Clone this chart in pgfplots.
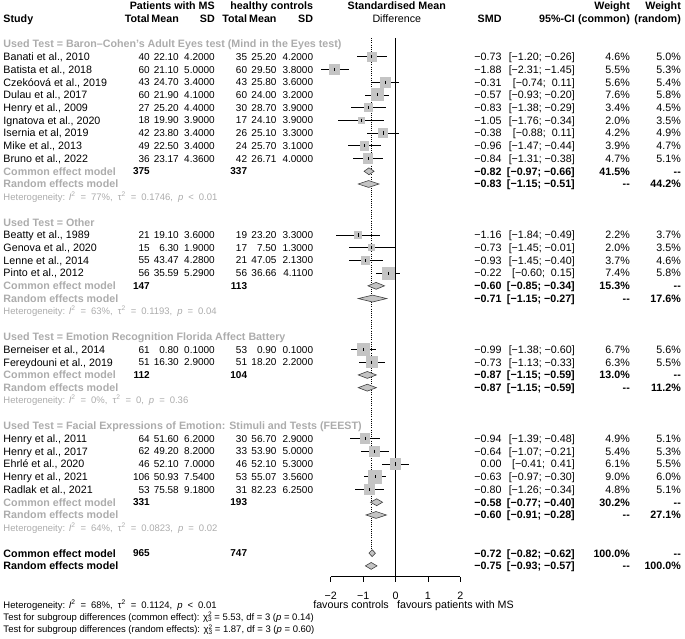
\documentclass[border=0pt]{standalone}
\usepackage{fontspec}
\setmainfont{Liberation Sans}
\usepackage{pgfplots}
\usepackage{pgfplotstable}
\pgfplotsset{compat=1.18}
\definecolor{lg}{RGB}{172,172,172}
\definecolor{sq}{RGB}{196,196,196}
\newcommand\fm{\fontsize{10.7}{12}\selectfont}
\newcommand\fn{\fontsize{10}{12}\selectfont}
\newcommand\fsm{\fontsize{9.5}{11}\selectfont}
\newcommand\hs{\hspace{5pt}}
\def\cStudy{-12.105}
\def\cNa{-7.58}
\def\cMa{-6.682}
\def\cSa{-5.571}
\def\cNb{-4.574}
\def\cMb{-3.667}
\def\cSb{-2.537}
\def\cSMD{3.278}
\def\cCI{5.540}
\def\cWc{7.238}
\def\cWr{8.812}
\tikzset{
  tx/.style={inner sep=0pt, text height=7.7pt, text depth=0pt, font=\fm},
  L/.style={tx, anchor=west},
  R/.style={tx, anchor=east},
  N/.style={inner sep=0pt, text height=7.2pt, text depth=0pt, font=\fn, anchor=east},
  C/.style={tx, anchor=center},
  B/.style={font=\fm\bfseries},
  S/.style={inner sep=0pt, text height=6.8pt, text depth=0pt, font=\fsm, anchor=west},
}
\newcommand\lrow[8]{%
  \node[L] at (axis cs:\cStudy,-#1) {#2};
  \node[N] at (axis cs:\cNa,-#1) {#3};
  \node[N] at (axis cs:\cMa,-#1) {#4};
  \node[N] at (axis cs:\cSa,-#1) {#5};
  \node[N] at (axis cs:\cNb,-#1) {#6};
  \node[N] at (axis cs:\cMb,-#1) {#7};
  \node[N] at (axis cs:\cSb,-#1) {#8};}
\newcommand\rrow[5]{%
  \node[R] at (axis cs:\cSMD,-#1) {#2};
  \node[R] at (axis cs:\cCI,-#1) {#3};
  \node[R] at (axis cs:\cWc,-#1) {#4};
  \node[R] at (axis cs:\cWr,-#1) {#5};}
\newcommand\rrowb[5]{%
  \node[R,B] at (axis cs:\cSMD,-#1) {#2};
  \node[R,B] at (axis cs:\cCI,-#1) {#3};
  \node[R,B] at (axis cs:\cWc,-#1) {#4};
  \node[R,B] at (axis cs:\cWr,-#1) {#5};}
\newcommand\summ[5]{% row, label, n1, n2, colour
  \node[L,B,text=#5] at (axis cs:\cStudy,-#1) {#2};
  \node[N,font=\fn\bfseries] at (axis cs:\cNa,-#1) {#3};
  \node[N,font=\fn\bfseries] at (axis cs:\cNb,-#1) {#4};}
\newcommand\grp[2]{\node[L,B,text=lg] at (axis cs:\cStudy,-#1) {#2};}
\newcommand\het[6]{\node[S,text=#6] at (axis cs:\cStudy,-#1) {Heterogeneity: \textit{I}\textsuperscript{2}\hs=\hs#2,\hs τ\textsuperscript{2}\hs=\hs#3,\hs\textit{p}\hs#4\hs#5};}
\newcommand\chisq{χ\rlap{\raisebox{3.4pt}{\fontsize{6.5}{7}\selectfont 2}}\raisebox{-1.6pt}{\fontsize{6.5}{7}\selectfont 3}}

\pgfplotstableread{
row smd lo hi w
5 -0.73 -1.20 -0.26 4.6
6 -1.88 -2.31 -1.45 5.5
7 -0.31 -0.74 0.11 5.6
8 -0.57 -0.93 -0.20 7.6
9 -0.83 -1.38 -0.29 3.4
10 -1.05 -1.76 -0.34 2.0
11 -0.38 -0.88 0.11 4.2
12 -0.96 -1.47 -0.44 3.9
13 -0.84 -1.31 -0.38 4.7
19 -1.16 -1.84 -0.49 2.2
20 -0.73 -1.45 -0.01 2.0
21 -0.93 -1.45 -0.40 3.7
22 -0.22 -0.60 0.15 7.4
28 -0.99 -1.38 -0.60 6.7
29 -0.73 -1.13 -0.33 6.3
35 -0.94 -1.39 -0.48 4.9
36 -0.64 -1.07 -0.21 5.4
37 0.00 -0.41 0.41 6.1
38 -0.63 -0.97 -0.30 9.0
39 -0.80 -1.26 -0.34 4.8
}\studies

\begin{document}
\begin{tikzpicture}
\begin{axis}[
  x=32.4pt, y=12.73pt,
  xmin=-2, xmax=2, ymin=-45.85, ymax=-3.53,
  axis x line*=bottom, axis y line=none,
  axis line style={line width=0.8pt, black},
  xtick={-2,-1,0,1,2}, xticklabels={−2,−1,0,1,2},
  tick align=outside, major tick length=5pt,
  x tick style={line width=0.8pt, black},
  xticklabel style={font=\fm, inner sep=0pt, text height=7.7pt, text depth=0pt, yshift=-9.5pt},
  clip=false,
]
% reference lines
\addplot[black, line width=0.8pt] coordinates {(0,-3.53) (0,-45.85)};
\addplot[black, line width=0.8pt, dash pattern=on 1pt off 1.2pt] coordinates {(-0.75,-3.53) (-0.75,-43.7)};
% squares
\addplot[scatter, only marks, mark=square*, draw=sq, fill=sq,
  mark options={draw=sq, fill=sq, line width=0pt},
  scatter/use mapped color={draw=sq, fill=sq},
  visualization depends on={2.17*sqrt(\thisrow{w}) \as \msz},
  scatter/@pre marker code/.append style={/tikz/mark size=\msz}]
  table[x=smd, y expr=-\thisrow{row}] {\studies};
% confidence intervals
\addplot[only marks, mark=|, mark size=1.6pt, black, mark options={line width=0.8pt},
  error bars/.cd, x dir=both, x explicit, error mark=none,
  error bar style={line width=0.75pt, black}]
  table[x=smd, y expr=-\thisrow{row},
        x error plus expr=\thisrow{hi}-\thisrow{smd},
        x error minus expr=\thisrow{smd}-\thisrow{lo}] {\studies};
% diamonds
\pgfplotsset{dia/.style={fill=sq, draw=black!75, line width=0.6pt}}
\addplot[dia] coordinates {(-0.97,-14) (-0.82,-13.73) (-0.66,-14) (-0.82,-14.27)} -- cycle;
\addplot[dia] coordinates {(-1.15,-15) (-0.83,-14.73) (-0.51,-15) (-0.83,-15.27)} -- cycle;
\addplot[dia] coordinates {(-0.85,-23) (-0.60,-22.73) (-0.34,-23) (-0.60,-23.27)} -- cycle;
\addplot[dia] coordinates {(-1.15,-24) (-0.71,-23.73) (-0.27,-24) (-0.71,-24.27)} -- cycle;
\addplot[dia] coordinates {(-1.15,-30) (-0.87,-29.73) (-0.59,-30) (-0.87,-30.27)} -- cycle;
\addplot[dia] coordinates {(-1.15,-31) (-0.87,-30.73) (-0.59,-31) (-0.87,-31.27)} -- cycle;
\addplot[dia] coordinates {(-0.77,-40) (-0.58,-39.73) (-0.40,-40) (-0.58,-40.27)} -- cycle;
\addplot[dia] coordinates {(-0.91,-41) (-0.60,-40.73) (-0.28,-41) (-0.60,-41.27)} -- cycle;
\addplot[dia] coordinates {(-0.82,-44) (-0.72,-43.73) (-0.62,-44) (-0.72,-44.27)} -- cycle;
\addplot[dia] coordinates {(-0.93,-45) (-0.75,-44.73) (-0.57,-45) (-0.75,-45.27)} -- cycle;

% headers
\node[R,B] at (axis cs:\cSa,-1) {Patients with MS};
\node[R,B] at (axis cs:\cSb,-1) {healthy controls};
\node[C,B] at (axis cs:0.04,-1) {Standardised Mean};
\node[R,B] at (axis cs:\cWc,-1) {Weight};
\node[R,B] at (axis cs:\cWr,-1) {Weight};
\node[L,B] at (axis cs:\cStudy,-2) {Study};
\node[R,B] at (axis cs:\cNa,-2) {Total};
\node[R,B] at (axis cs:\cMa,-2) {Mean};
\node[R,B] at (axis cs:\cSa,-2) {SD};
\node[R,B] at (axis cs:\cNb,-2) {Total};
\node[R,B] at (axis cs:\cMb,-2) {Mean};
\node[R,B] at (axis cs:\cSb,-2) {SD};
\node[C] at (axis cs:0.04,-2) {Difference};
\node[R,B] at (axis cs:\cSMD,-2) {SMD};
\node[R,B] at (axis cs:\cCI,-2) {95\%-CI};
\node[R,B] at (axis cs:\cWc,-2) {(common)};
\node[R,B] at (axis cs:\cWr,-2) {(random)};

% group 1
\grp{4}{Used Test = Baron–Cohen's Adult Eyes test (Mind in the Eyes test)}
\lrow{5}{Banati et al., 2010}{40}{22.10}{4.2000}{35}{25.20}{4.2000}
\lrow{6}{Batista et al., 2018}{60}{21.10}{5.0000}{60}{29.50}{3.8000}
\lrow{7}{Czekóová et al., 2019}{43}{24.70}{3.4000}{43}{25.80}{3.6000}
\lrow{8}{Dulau et al., 2017}{60}{21.90}{4.1000}{60}{24.00}{3.2000}
\lrow{9}{Henry et al., 2009}{27}{25.20}{4.4000}{30}{28.70}{3.9000}
\lrow{10}{Ignatova et al., 2020}{18}{19.90}{3.9000}{17}{24.10}{3.9000}
\lrow{11}{Isernia et al, 2019}{42}{23.80}{3.4000}{26}{25.10}{3.3000}
\lrow{12}{Mike et al., 2013}{49}{22.50}{3.4000}{24}{25.70}{3.1000}
\lrow{13}{Bruno et al., 2022}{36}{23.17}{4.3600}{42}{26.71}{4.0000}
\rrow{5}{−0.73}{[−1.20; −0.26]}{4.6\%}{5.0\%}
\rrow{6}{−1.88}{[−2.31; −1.45]}{5.5\%}{5.3\%}
\rrow{7}{−0.31}{[−0.74;\ \ 0.11]}{5.6\%}{5.4\%}
\rrow{8}{−0.57}{[−0.93; −0.20]}{7.6\%}{5.8\%}
\rrow{9}{−0.83}{[−1.38; −0.29]}{3.4\%}{4.5\%}
\rrow{10}{−1.05}{[−1.76; −0.34]}{2.0\%}{3.5\%}
\rrow{11}{−0.38}{[−0.88;\ \ 0.11]}{4.2\%}{4.9\%}
\rrow{12}{−0.96}{[−1.47; −0.44]}{3.9\%}{4.7\%}
\rrow{13}{−0.84}{[−1.31; −0.38]}{4.7\%}{5.1\%}
\summ{14}{Common effect model}{375}{337}{lg}
\summ{15}{Random effects model}{}{}{lg}
\rrowb{14}{−0.82}{[−0.97; −0.66]}{41.5\%}{-{}-}
\rrowb{15}{−0.83}{[−1.15; −0.51]}{-{}-}{44.2\%}
\het{16}{77\%}{0.1746}{<}{0.01}{lg}

% group 2
\grp{18}{Used Test = Other}
\lrow{19}{Beatty et al., 1989}{21}{19.10}{3.6000}{19}{23.20}{3.3000}
\lrow{20}{Genova et al., 2020}{15}{6.30}{1.9000}{17}{7.50}{1.3000}
\lrow{21}{Lenne et al., 2014}{55}{43.47}{4.2800}{21}{47.05}{2.1300}
\lrow{22}{Pinto et al., 2012}{56}{35.59}{5.2900}{56}{36.66}{4.1100}
\rrow{19}{−1.16}{[−1.84; −0.49]}{2.2\%}{3.7\%}
\rrow{20}{−0.73}{[−1.45; −0.01]}{2.0\%}{3.5\%}
\rrow{21}{−0.93}{[−1.45; −0.40]}{3.7\%}{4.6\%}
\rrow{22}{−0.22}{[−0.60;\ \ 0.15]}{7.4\%}{5.8\%}
\summ{23}{Common effect model}{147}{113}{lg}
\summ{24}{Random effects model}{}{}{lg}
\rrowb{23}{−0.60}{[−0.85; −0.34]}{15.3\%}{-{}-}
\rrowb{24}{−0.71}{[−1.15; −0.27]}{-{}-}{17.6\%}
\het{25}{63\%}{0.1193}{=}{0.04}{lg}

% group 3
\grp{27}{Used Test = Emotion Recognition Florida Affect Battery}
\lrow{28}{Berneiser et al., 2014}{61}{0.80}{0.1000}{53}{0.90}{0.1000}
\lrow{29}{Fereydouni et al., 2019}{51}{16.30}{2.9000}{51}{18.20}{2.2000}
\rrow{28}{−0.99}{[−1.38; −0.60]}{6.7\%}{5.6\%}
\rrow{29}{−0.73}{[−1.13; −0.33]}{6.3\%}{5.5\%}
\summ{30}{Common effect model}{112}{104}{lg}
\summ{31}{Random effects model}{}{}{lg}
\rrowb{30}{−0.87}{[−1.15; −0.59]}{13.0\%}{-{}-}
\rrowb{31}{−0.87}{[−1.15; −0.59]}{-{}-}{11.2\%}
\het{32}{0\%}{0}{=}{0.36}{lg}

% group 4
\grp{34}{Used Test = Facial Expressions of Emotion: Stimuli and Tests (FEEST)}
\lrow{35}{Henry et al., 2011}{64}{51.60}{6.2000}{30}{56.70}{2.9000}
\lrow{36}{Henry et al., 2017}{62}{49.20}{8.2000}{33}{53.90}{5.0000}
\lrow{37}{Ehrlé et al., 2020}{46}{52.10}{7.0000}{46}{52.10}{5.3000}
\lrow{38}{Henry et al., 2021}{106}{50.93}{7.5400}{53}{55.07}{3.5600}
\lrow{39}{Radlak et al., 2021}{53}{75.58}{9.1800}{31}{82.23}{6.2500}
\rrow{35}{−0.94}{[−1.39; −0.48]}{4.9\%}{5.1\%}
\rrow{36}{−0.64}{[−1.07; −0.21]}{5.4\%}{5.3\%}
\rrow{37}{0.00}{[−0.41;\ \ 0.41]}{6.1\%}{5.5\%}
\rrow{38}{−0.63}{[−0.97; −0.30]}{9.0\%}{6.0\%}
\rrow{39}{−0.80}{[−1.26; −0.34]}{4.8\%}{5.1\%}
\summ{40}{Common effect model}{331}{193}{lg}
\summ{41}{Random effects model}{}{}{lg}
\rrowb{40}{−0.58}{[−0.77; −0.40]}{30.2\%}{-{}-}
\rrowb{41}{−0.60}{[−0.91; −0.28]}{-{}-}{27.1\%}
\het{42}{64\%}{0.0823}{=}{0.02}{lg}

% overall
\summ{44}{Common effect model}{965}{747}{black}
\summ{45}{Random effects model}{}{}{black}
\rrowb{44}{−0.72}{[−0.82; −0.62]}{100.0\%}{-{}-}
\rrowb{45}{−0.75}{[−0.93; −0.57]}{-{}-}{100.0\%}

\node[R] at (axis cs:-0.2,-48.07) {favours controls};
\node[L] at (axis cs:0.046,-48.07) {favours patients with MS};
\het{48.07}{68\%}{0.1124}{<}{0.01}{black}
\node[S] at (axis cs:\cStudy,-49.0) {Test for subgroup differences (common effect): \chisq\ = 5.53, df = 3 (\textit{p} = 0.14)};
\node[S] at (axis cs:\cStudy,-50.0) {Test for subgroup differences (random effects): \chisq\ = 1.87, df = 3 (\textit{p} = 0.60)};

\coordinate (BL) at (axis cs:-12.207,-50.74);
\coordinate (TR) at (axis cs:8.935,-0.546);
\end{axis}
\pgfresetboundingbox
\useasboundingbox (BL) rectangle (TR);
\end{tikzpicture}
\end{document}
